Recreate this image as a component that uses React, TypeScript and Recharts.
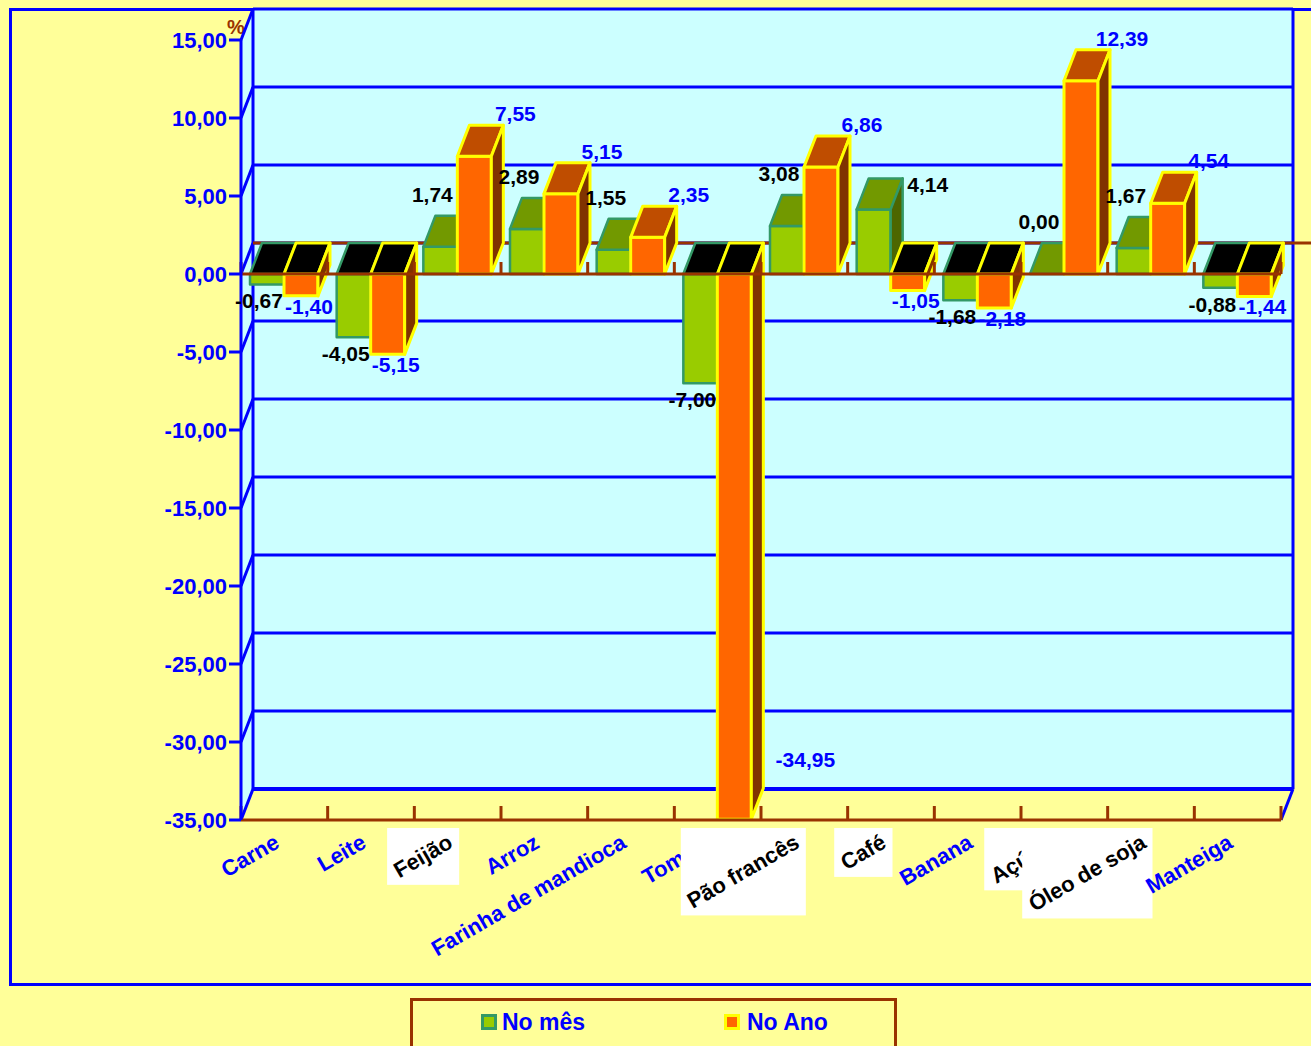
import React from "react";
import {
  BarChart,
  Bar,
  XAxis,
  YAxis,
  CartesianGrid,
  ReferenceArea,
  ReferenceLine,
  LabelList,
} from "recharts";

const categories = [
  "Carne",
  "Leite",
  "Feijão",
  "Arroz",
  "Farinha de mandioca",
  "Tomate",
  "Pão francês",
  "Café",
  "Banana",
  "Açúcar",
  "Óleo de soja",
  "Manteiga",
];
const noMes = [-0.67, -4.05, 1.74, 2.89, 1.55, -7.0, 3.08, 4.14, -1.68, 0.0, 1.67, -0.88];
const noAno = [-1.4, -5.15, 7.55, 5.15, 2.35, -34.95, 6.86, -1.05, -2.18, 12.39, 4.54, -1.44];
// labels the original prints black on a white box
const boxedLabels = ["Feijão", "Pão francês", "Café", "Açúcar", "Óleo de soja"];
const yTicks = [15, 10, 5, 0, -5, -10, -15, -20, -25, -30, -35];

const data = categories.map((name, i) => ({ name, mes: noMes[i], ano: noAno[i] }));

const FONT = "'Liberation Sans', Arial, sans-serif";
const BLUE = "#0000FF";
const BROWN = "#993300";
const CYAN = "#CCFFFF";
const YELLOW_BG = "#FFFF99";
const DX = 12; // depth offset of the 3d effect
const DY = 31;

type Palette = { front: string; top: string; side: string; stroke: string; sw: number };
const GREEN: Palette = { front: "#99CC00", top: "#729900", side: "#4D6600", stroke: "#339966", sw: 2.5 };
const ORANGE: Palette = { front: "#FF6600", top: "#BF4D00", side: "#803300", stroke: "#FFFF00", sw: 3 };

const fmt = (v: number) => v.toFixed(2).replace(".", ",");

let ctx: CanvasRenderingContext2D | null = null;
function textWidth(s: string, font: string) {
  if (!ctx) ctx = document.createElement("canvas").getContext("2d");
  if (!ctx) return s.length * 11;
  ctx.font = font;
  return ctx.measureText(s).width;
}

function box3d(p: any, pal: Palette, key: string) {
  const { x, y, width: w, height: h } = p;
  if (x == null || y == null) return <g />;
  const v = p.payload ? p.payload[key] : 0;
  const t = Math.min(y, y + h);
  const b = Math.max(y, y + h);
  const topFill = v < 0 ? "#000000" : pal.top;
  const common = { stroke: pal.stroke, strokeWidth: pal.sw, strokeLinejoin: "round" as const };
  return (
    <g>
      <rect x={x} y={t} width={w} height={b - t} fill={pal.front} {...common} />
      <polygon
        points={`${x},${t} ${x + DX},${t - DY} ${x + w + DX},${t - DY} ${x + w},${t}`}
        fill={topFill}
        {...common}
      />
      <polygon
        points={`${x + w},${t} ${x + w + DX},${t - DY} ${x + w + DX},${b - DY} ${x + w},${b}`}
        fill={pal.side}
        {...common}
      />
    </g>
  );
}

function valueLabel(p: any, series: "mes" | "ano") {
  const vb = p.viewBox && p.viewBox.x != null ? p.viewBox : p;
  const { x, y, width: w, height: h } = vb;
  const v = Number(p.value);
  if (x == null || isNaN(v)) return null;
  const t = Math.min(y, y + h);
  const b = Math.max(y, y + h);
  const cx = x + w / 2;
  let tx: number;
  let ty: number;
  if (series === "mes") {
    const other = noAno[p.index];
    if (v >= 0 && other < v) {
      // nothing to the right: put it beside the back corner
      tx = x + w + DX + 25;
      ty = t - DY + 14;
    } else if (v >= 0) {
      tx = cx - 8;
      ty = t - DY - 14;
    } else {
      tx = cx - 8;
      ty = b + 24;
    }
  } else if (v >= 0) {
    tx = x + w + DX + 12;
    ty = t - DY - 4;
  } else if (b > 760) {
    tx = x + w + 54;
    ty = b - 52;
  } else {
    tx = cx + 8;
    ty = b + 18;
  }
  return (
    <text
      x={tx}
      y={ty}
      textAnchor="middle"
      fontFamily={FONT}
      fontWeight="bold"
      fontSize={21}
      fill={series === "mes" ? "#000000" : BLUE}
    >
      {fmt(v)}
    </text>
  );
}

function Walls(p: any) {
  const { x, y, width, height } = p;
  const n = categories.length;
  const bw = width / n;
  const bottom = y + height;
  return (
    <g>
      <polygon
        points={`${x},${y} ${x + DX},${y - DY} ${x + DX},${bottom - DY} ${x},${bottom}`}
        fill={CYAN}
      />
      <rect x={x + DX} y={y - DY} width={width} height={height} fill={CYAN} />
      <line x1={x + DX} y1={y - DY} x2={x + DX} y2={bottom - DY} stroke={BLUE} strokeWidth={3} />
      <line
        x1={x + width + DX}
        y1={y - DY}
        x2={x + width + DX}
        y2={bottom - DY}
        stroke={BLUE}
        strokeWidth={3}
      />
      <line x1={x + width} y1={bottom} x2={x + width + DX} y2={bottom - DY} stroke={BLUE} strokeWidth={3} />
      {categories.concat([""]).map((_, i) => (
        <line
          key={i}
          x1={x + i * bw}
          y1={bottom}
          x2={x + i * bw}
          y2={bottom - 14}
          stroke={BROWN}
          strokeWidth={3}
        />
      ))}
      <text x={x - 5} y={y - 6} textAnchor="middle" fontFamily={FONT} fontWeight="bold" fontSize={20} fill={BROWN}>
        %
      </text>
    </g>
  );
}

function gridLine(p: any) {
  const { x1, y1, x2, index } = p;
  const last = index === yTicks.length - 1 || Math.abs(y1 - 820) < 1;
  return (
    <g key={`g-${index}-${y1}`}>
      <line x1={x1 + DX} y1={y1 - DY} x2={x2 + DX} y2={y1 - DY} stroke={BLUE} strokeWidth={last ? 4 : 3} />
      <line x1={x1} y1={y1} x2={x1 + DX} y2={y1 - DY} stroke={BLUE} strokeWidth={3} />
    </g>
  );
}

function ZeroBack(p: any) {
  const { x1, y1, x2 } = p;
  return <line x1={x1 + DX} y1={y1 - DY} x2={x2 + DX + 30} y2={y1 - DY} stroke={BROWN} strokeWidth={3} />;
}

function ZeroFront(p: any) {
  const { x1, y1, x2 } = p;
  const n = categories.length;
  const bw = (x2 - x1) / n;
  return (
    <g>
      <line x1={x1} y1={y1} x2={x2} y2={y1} stroke={BROWN} strokeWidth={3} />
      {categories.concat([""]).map((_, i) => (
        <line key={i} x1={x1 + i * bw} y1={y1} x2={x1 + i * bw} y2={y1 - 12} stroke={BROWN} strokeWidth={3} />
      ))}
    </g>
  );
}

function CategoryTick(props: any) {
  const { x, y, payload } = props;
  const name = String(payload.value);
  const boxed = boxedLabels.includes(name);
  const fs = 22;
  const w = textWidth(name, `bold ${fs}px "Liberation Sans"`);
  const px = x - 12.5;
  const py = y + 3;
  const c = 0.866;
  const s = 0.5;
  const pad = 3;
  return (
    <g>
      {boxed && (
        <rect
          x={px - c * w - pad}
          y={py - pad}
          width={c * w + s * fs + 2 * pad}
          height={s * w + c * fs + 2 * pad}
          fill="#FFFFFF"
        />
      )}
      <text
        transform={`translate(${px},${py}) rotate(-30)`}
        x={0}
        y={fs * 0.82}
        textAnchor="end"
        fontSize={fs}
        fontWeight="bold"
        fontFamily={FONT}
        fill={boxed ? "#000000" : BLUE}
      >
        {name}
      </text>
    </g>
  );
}

export default function App() {
  return (
    <div
      style={{
        position: "fixed",
        left: 0,
        top: 0,
        width: 1311,
        height: 1046,
        background: YELLOW_BG,
        overflow: "hidden",
        fontFamily: FONT,
      }}
    >
      <div
        style={{
          position: "absolute",
          left: 9,
          top: 8,
          width: 1400,
          height: 972,
          border: `3px solid ${BLUE}`,
        }}
      />
      <div style={{ position: "absolute", left: 0, top: 0 }}>
        <BarChart
          width={1311}
          height={1046}
          data={data}
          margin={{ top: 40, right: 30, bottom: 196, left: 151 }}
          barSize={34}
          barGap={0}
        >
          <ReferenceArea y1={-35} y2={15} shape={Walls} zIndex={-300} />
          <CartesianGrid vertical={false} horizontal={gridLine} stroke={BLUE} zIndex={-200} />
          <ReferenceLine y={0} shape={ZeroBack} zIndex={-100} />
          <XAxis
            dataKey="name"
            interval={0}
            height={30}
            tickSize={0}
            tickMargin={8}
            tickLine={false}
            axisLine={{ stroke: BROWN, strokeWidth: 3 }}
            tick={(p: any) => <CategoryTick {...p} />}
          />
          <YAxis
            width={90}
            domain={[-35, 15]}
            ticks={yTicks}
            interval={0}
            tickSize={12}
            tickMargin={2}
            tickFormatter={(v: number) => fmt(v)}
            axisLine={{ stroke: BLUE, strokeWidth: 3 }}
            tickLine={{ stroke: BLUE, strokeWidth: 3 }}
            tick={{ fill: BLUE, fontSize: 22, fontWeight: "bold", fontFamily: FONT }}
          />
          <Bar dataKey="mes" isAnimationActive={false} shape={(p: any) => box3d(p, GREEN, "mes")}>
            <LabelList dataKey="mes" content={(p: any) => valueLabel(p, "mes")} />
          </Bar>
          <Bar dataKey="ano" isAnimationActive={false} shape={(p: any) => box3d(p, ORANGE, "ano")}>
            <LabelList dataKey="ano" content={(p: any) => valueLabel(p, "ano")} />
          </Bar>
          <ReferenceLine y={0} shape={ZeroFront} zIndex={350} />
        </BarChart>
      </div>
      <div
        style={{
          position: "absolute",
          left: 410,
          top: 998,
          width: 487,
          height: 80,
          boxSizing: "border-box",
          border: `3px solid ${BROWN}`,
        }}
      />
      <div
        style={{
          position: "absolute",
          left: 481,
          top: 1014,
          width: 16,
          height: 16,
          boxSizing: "border-box",
          background: GREEN.front,
          border: `3px solid ${GREEN.stroke}`,
        }}
      />
      <div
        style={{
          position: "absolute",
          left: 502,
          top: 1008,
          fontSize: 23,
          fontWeight: "bold",
          color: BLUE,
          lineHeight: "28px",
        }}
      >
        No mês
      </div>
      <div
        style={{
          position: "absolute",
          left: 724,
          top: 1014,
          width: 16,
          height: 16,
          boxSizing: "border-box",
          background: ORANGE.front,
          border: `3px solid ${ORANGE.stroke}`,
        }}
      />
      <div
        style={{
          position: "absolute",
          left: 747,
          top: 1008,
          fontSize: 23,
          fontWeight: "bold",
          color: BLUE,
          lineHeight: "28px",
        }}
      >
        No Ano
      </div>
    </div>
  );
}
